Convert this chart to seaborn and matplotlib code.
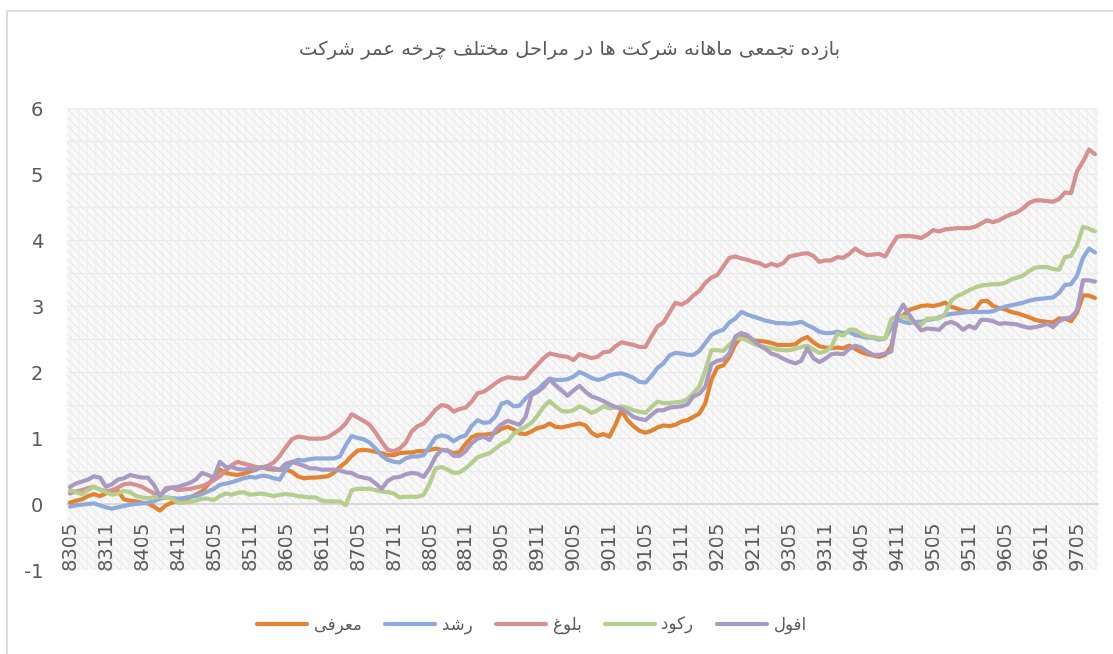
import numpy as np
import pandas as pd
import matplotlib
matplotlib.use('Agg')
import matplotlib.pyplot as plt
from matplotlib.patches import Rectangle
import seaborn as sns

sns.set_style('white')
plt.rcParams['font.family'] = ['DejaVu Sans']
plt.rcParams['axes.unicode_minus'] = False
plt.rcParams['hatch.linewidth'] = 0.7

# ---- data ----
title = 'بازده تجمعی ماهانه شرکت ها در مراحل مختلف چرخه عمر شرکت'
stages = ['معرفی', 'رشد', 'بلوغ', 'رکود', 'افول']
colors = ['#E38231', '#8EA9DA', '#D69090', '#B5CE8D', '#A99AC4']

introduction = [
    0.02, 0.05, 0.07, 0.12, 0.15, 0.12, 0.16, 0.19, 0.20, 0.07,
    0.05, 0.04, 0.02, 0.01, -0.04, -0.10, -0.02, 0.02, 0.05, 0.07,
    0.10, 0.14, 0.19, 0.29, 0.40, 0.52, 0.47, 0.45, 0.44, 0.46,
    0.49, 0.52, 0.56, 0.53, 0.52, 0.52, 0.52, 0.49, 0.42, 0.39,
    0.40, 0.40, 0.41, 0.42, 0.47, 0.56, 0.63, 0.73, 0.81, 0.82,
    0.81, 0.79, 0.77, 0.74, 0.74, 0.77, 0.78, 0.78, 0.80, 0.80,
    0.82, 0.84, 0.82, 0.81, 0.77, 0.79, 0.91, 1.01, 1.05, 1.05,
    1.06, 1.08, 1.14, 1.17, 1.13, 1.07, 1.06, 1.10, 1.15, 1.17,
    1.22, 1.17, 1.16, 1.18, 1.20, 1.22, 1.19, 1.08, 1.03, 1.06,
    1.02, 1.20, 1.42, 1.27, 1.18, 1.11, 1.08, 1.11, 1.16, 1.19,
    1.18, 1.20, 1.25, 1.27, 1.32, 1.37, 1.53, 1.88, 2.07, 2.10,
    2.23, 2.42, 2.54, 2.51, 2.48, 2.47, 2.46, 2.44, 2.41, 2.41,
    2.41, 2.42, 2.49, 2.53, 2.45, 2.39, 2.37, 2.36, 2.37, 2.36,
    2.40, 2.35, 2.30, 2.27, 2.25, 2.23, 2.26, 2.39, 2.81, 2.86,
    2.94, 2.97, 3.00, 3.01, 3.00, 3.02, 3.05, 2.99, 2.96, 2.93,
    2.91, 2.95, 3.07, 3.08, 3.00, 2.97, 2.95, 2.91, 2.89, 2.86,
    2.83, 2.79, 2.77, 2.76, 2.75, 2.81, 2.81, 2.77, 2.90, 3.16,
    3.16, 3.12,
]
growth = [
    -0.04, -0.02, -0.01, 0.00, 0.01, -0.02, -0.05, -0.07, -0.05, -0.03,
    -0.01, 0.00, 0.01, 0.02, 0.04, 0.08, 0.10, 0.09, 0.08, 0.09,
    0.11, 0.12, 0.15, 0.19, 0.23, 0.29, 0.31, 0.33, 0.36, 0.39,
    0.41, 0.40, 0.43, 0.42, 0.39, 0.37, 0.52, 0.63, 0.67, 0.66,
    0.68, 0.69, 0.69, 0.69, 0.69, 0.72, 0.89, 1.03, 1.00, 0.98,
    0.93, 0.84, 0.73, 0.67, 0.64, 0.63, 0.69, 0.72, 0.72, 0.74,
    0.87, 1.01, 1.04, 1.02, 0.95, 1.01, 1.04, 1.18, 1.27, 1.23,
    1.24, 1.33, 1.52, 1.55, 1.48, 1.49, 1.60, 1.68, 1.73, 1.82,
    1.90, 1.88, 1.88, 1.89, 1.93, 2.00, 1.96, 1.91, 1.88, 1.90,
    1.95, 1.97, 1.98, 1.95, 1.91, 1.85, 1.84, 1.94, 2.06, 2.13,
    2.25, 2.29, 2.28, 2.26, 2.26, 2.32, 2.44, 2.56, 2.61, 2.64,
    2.75, 2.81, 2.91, 2.87, 2.84, 2.81, 2.78, 2.76, 2.74, 2.74,
    2.73, 2.74, 2.76, 2.71, 2.67, 2.61, 2.59, 2.59, 2.61, 2.59,
    2.61, 2.56, 2.54, 2.52, 2.52, 2.49, 2.51, 2.67, 2.80, 2.76,
    2.74, 2.76, 2.76, 2.79, 2.80, 2.83, 2.86, 2.88, 2.89, 2.90,
    2.91, 2.91, 2.91, 2.91, 2.92, 2.96, 2.99, 3.01, 3.03, 3.05,
    3.08, 3.10, 3.11, 3.12, 3.13, 3.20, 3.32, 3.33, 3.46, 3.73,
    3.87, 3.81,
]
maturity = [
    0.16, 0.19, 0.21, 0.24, 0.26, 0.22, 0.19, 0.21, 0.25, 0.30,
    0.31, 0.29, 0.26, 0.21, 0.16, 0.12, 0.24, 0.25, 0.21, 0.22,
    0.23, 0.25, 0.27, 0.31, 0.36, 0.42, 0.51, 0.59, 0.64, 0.61,
    0.59, 0.56, 0.55, 0.58, 0.63, 0.73, 0.86, 0.98, 1.02, 1.01,
    0.99, 0.99, 0.99, 1.01, 1.07, 1.13, 1.22, 1.36, 1.31, 1.26,
    1.20, 1.08, 0.94, 0.82, 0.80, 0.84, 0.93, 1.10, 1.18, 1.22,
    1.32, 1.43, 1.50, 1.48, 1.40, 1.44, 1.46, 1.55, 1.68, 1.70,
    1.76, 1.83, 1.89, 1.92, 1.91, 1.90, 1.91, 2.02, 2.11, 2.21,
    2.28, 2.26, 2.24, 2.23, 2.18, 2.27, 2.24, 2.21, 2.23, 2.30,
    2.31, 2.39, 2.45, 2.43, 2.41, 2.38, 2.38, 2.54, 2.69, 2.75,
    2.90, 3.05, 3.02, 3.07, 3.16, 3.23, 3.35, 3.43, 3.47, 3.60,
    3.73, 3.75, 3.72, 3.70, 3.67, 3.65, 3.60, 3.64, 3.61, 3.65,
    3.75, 3.77, 3.79, 3.80, 3.76, 3.67, 3.69, 3.69, 3.74, 3.73,
    3.79, 3.87, 3.81, 3.77, 3.78, 3.79, 3.75, 3.91, 4.05, 4.06,
    4.06, 4.05, 4.03, 4.08, 4.15, 4.13, 4.16, 4.17, 4.18, 4.18,
    4.18, 4.20, 4.25, 4.30, 4.27, 4.30, 4.35, 4.39, 4.42, 4.48,
    4.56, 4.60, 4.60, 4.59, 4.58, 4.62, 4.72, 4.71, 5.04, 5.19,
    5.37, 5.30,
]
recession = [
    0.21, 0.18, 0.15, 0.21, 0.26, 0.22, 0.18, 0.14, 0.16, 0.20,
    0.18, 0.12, 0.10, 0.09, 0.10, 0.11, 0.10, 0.08, 0.02, 0.02,
    0.03, 0.05, 0.08, 0.08, 0.06, 0.12, 0.16, 0.14, 0.17, 0.18,
    0.14, 0.15, 0.16, 0.14, 0.12, 0.14, 0.15, 0.14, 0.12, 0.11,
    0.10, 0.10, 0.05, 0.04, 0.04, 0.04, -0.02, 0.21, 0.23, 0.23,
    0.23, 0.21, 0.19, 0.18, 0.16, 0.10, 0.11, 0.11, 0.11, 0.14,
    0.31, 0.54, 0.56, 0.52, 0.47, 0.48, 0.54, 0.62, 0.71, 0.74,
    0.77, 0.84, 0.91, 0.95, 1.06, 1.12, 1.17, 1.23, 1.34, 1.47,
    1.56, 1.48, 1.41, 1.40, 1.42, 1.48, 1.44, 1.38, 1.42, 1.48,
    1.45, 1.46, 1.48, 1.46, 1.42, 1.40, 1.38, 1.47, 1.55, 1.53,
    1.53, 1.54, 1.55, 1.59, 1.68, 1.78, 2.03, 2.33, 2.33, 2.32,
    2.41, 2.50, 2.51, 2.48, 2.43, 2.40, 2.38, 2.36, 2.34, 2.33,
    2.33, 2.35, 2.38, 2.40, 2.34, 2.29, 2.31, 2.38, 2.58, 2.55,
    2.64, 2.64, 2.58, 2.54, 2.53, 2.51, 2.51, 2.80, 2.85, 2.84,
    2.80, 2.74, 2.71, 2.81, 2.81, 2.81, 2.88, 3.08, 3.15, 3.19,
    3.24, 3.28, 3.31, 3.32, 3.33, 3.33, 3.35, 3.40, 3.43, 3.46,
    3.53, 3.58, 3.59, 3.59, 3.56, 3.55, 3.74, 3.76, 3.92, 4.20,
    4.17, 4.13,
]
decline = [
    0.26, 0.31, 0.34, 0.37, 0.42, 0.40, 0.26, 0.30, 0.37, 0.39,
    0.44, 0.42, 0.40, 0.40, 0.29, 0.12, 0.21, 0.25, 0.26, 0.29,
    0.32, 0.37, 0.47, 0.44, 0.40, 0.64, 0.56, 0.56, 0.53, 0.52,
    0.54, 0.52, 0.56, 0.55, 0.54, 0.52, 0.61, 0.64, 0.61, 0.58,
    0.54, 0.54, 0.52, 0.52, 0.52, 0.51, 0.48, 0.47, 0.42, 0.40,
    0.38, 0.31, 0.23, 0.35, 0.40, 0.41, 0.45, 0.47, 0.46, 0.41,
    0.54, 0.72, 0.82, 0.81, 0.73, 0.73, 0.80, 0.92, 0.99, 1.02,
    0.97, 1.12, 1.21, 1.26, 1.23, 1.20, 1.32, 1.65, 1.70, 1.77,
    1.89, 1.80, 1.72, 1.64, 1.72, 1.79, 1.70, 1.63, 1.60, 1.56,
    1.51, 1.47, 1.44, 1.39, 1.32, 1.29, 1.27, 1.35, 1.42, 1.42,
    1.46, 1.47, 1.48, 1.51, 1.63, 1.67, 1.78, 2.12, 2.17, 2.19,
    2.28, 2.54, 2.59, 2.56, 2.48, 2.40, 2.35, 2.28, 2.25, 2.20,
    2.16, 2.13, 2.17, 2.36, 2.21, 2.15, 2.20, 2.27, 2.28, 2.27,
    2.35, 2.40, 2.37, 2.31, 2.26, 2.26, 2.28, 2.31, 2.86, 3.02,
    2.87, 2.74, 2.63, 2.66, 2.65, 2.64, 2.73, 2.76, 2.72, 2.64,
    2.70, 2.66, 2.79, 2.79, 2.77, 2.73, 2.74, 2.73, 2.72, 2.69,
    2.67, 2.68, 2.70, 2.73, 2.68, 2.77, 2.81, 2.83, 2.93, 3.39,
    3.39, 3.37,
]

# monthly categories 8305 ... 9708
months = []
yy, mm = 83, 5
while len(months) < len(introduction):
    months.append(f'{yy}{mm:02d}')
    mm += 1
    if mm > 12:
        mm, yy = 1, yy + 1

series = [introduction, growth, maturity, recession, decline]
for s in series:
    assert len(s) == len(months), len(s)

# ---- minimal persian shaping (matplotlib has no bidi / joining) ----
FORMS = {
    'ا': ('\uFE8D', '\uFE8E', None, None),
    'ب': ('\uFE8F', '\uFE90', '\uFE91', '\uFE92'),
    'ت': ('\uFE95', '\uFE96', '\uFE97', '\uFE98'),
    'ج': ('\uFE9D', '\uFE9E', '\uFE9F', '\uFEA0'),
    'ح': ('\uFEA1', '\uFEA2', '\uFEA3', '\uFEA4'),
    'خ': ('\uFEA5', '\uFEA6', '\uFEA7', '\uFEA8'),
    'د': ('\uFEA9', '\uFEAA', None, None),
    'ر': ('\uFEAD', '\uFEAE', None, None),
    'ز': ('\uFEAF', '\uFEB0', None, None),
    'ش': ('\uFEB5', '\uFEB6', '\uFEB7', '\uFEB8'),
    'ع': ('\uFEC9', '\uFECA', '\uFECB', '\uFECC'),
    'غ': ('\uFECD', '\uFECE', '\uFECF', '\uFED0'),
    'ف': ('\uFED1', '\uFED2', '\uFED3', '\uFED4'),
    'ل': ('\uFEDD', '\uFEDE', '\uFEDF', '\uFEE0'),
    'م': ('\uFEE1', '\uFEE2', '\uFEE3', '\uFEE4'),
    'ن': ('\uFEE5', '\uFEE6', '\uFEE7', '\uFEE8'),
    'ه': ('\uFEE9', '\uFEEA', '\uFEEB', '\uFEEC'),
    'و': ('\uFEED', '\uFEEE', None, None),
    'ک': ('\uFB8E', '\uFB8F', '\uFB90', '\uFB91'),
    'چ': ('\uFB7A', '\uFB7B', '\uFB7C', '\uFB7D'),
    'ی': ('\uFBFC', '\uFBFD', '\uFBFE', '\uFBFF'),
}


def shape(text):
    out = []
    for k, ch in enumerate(text):
        if ch not in FORMS:
            out.append(ch)
            continue
        iso, fin, ini, med = FORMS[ch]
        prev = text[k - 1] if k > 0 else ''
        nxt = text[k + 1] if k + 1 < len(text) else ''
        join_prev = prev in FORMS and FORMS[prev][2] is not None
        join_next = ini is not None and nxt in FORMS
        if join_prev and join_next:
            out.append(med)
        elif join_prev:
            out.append(fin)
        elif join_next:
            out.append(ini)
        else:
            out.append(iso)
    return ''.join(reversed(out))


df = pd.DataFrame({
    'month': months * len(stages),
    'value': np.concatenate(series),
    'stage': np.repeat(stages, len(months)),
})

fig = plt.figure(figsize=(11.13, 6.54), dpi=100)
ax = fig.add_axes([67 / 1113, 1 - 570 / 654, 1031 / 1113, 462 / 654])

# excel style patterned plot area (fine light texture)
ax.add_patch(Rectangle((0, 0), 1, 1, transform=ax.transAxes, facecolor='#f9f9f9',
                       edgecolor='#e6e6e6', hatch='\\\\\\\\', lw=0, zorder=0.1))
ax.add_patch(Rectangle((0, 0), 1, 1, transform=ax.transAxes, facecolor='none',
                       edgecolor='#efefef', hatch='||', lw=0, zorder=0.15))

sns.lineplot(data=df, x='month', y='value', hue='stage', hue_order=stages,
             palette=dict(zip(stages, colors)), sort=False, lw=3.0, ax=ax,
             solid_joinstyle='round', solid_capstyle='round')

ax.set_xlim(-0.5, len(months) - 0.5)
ax.set_ylim(-1, 6)
ax.set_yticks(range(-1, 7))
ax.set_yticks(np.arange(-1, 6.01, 0.5), minor=True)
ax.set_xticks(range(0, len(months), 6))
ax.set_xticklabels(months[::6])
ax.set_axisbelow(True)
ax.grid(which='both', axis='y', color='#ebebeb', lw=0.9)
ax.grid(axis='x', visible=False)

for side in ['top', 'right', 'left']:
    ax.spines[side].set_visible(False)
ax.spines['bottom'].set_position(('data', 0))
ax.spines['bottom'].set_color('#d9d9d9')
ax.spines['bottom'].set_linewidth(1.4)
ax.spines['bottom'].set_zorder(1)

ax.tick_params(axis='x', length=0, pad=12, labelsize=14, labelcolor='#595959', labelrotation=90)
ax.tick_params(axis='y', which='both', length=0, pad=17, labelsize=14, labelcolor='#595959')
ax.set_xlabel('')
ax.set_ylabel('')

handles, labels = ax.get_legend_handles_labels()
ax.get_legend().remove()
leg = fig.legend(handles, [shape(l) for l in labels], loc='center', bbox_to_anchor=(0.478, 0.044),
                 ncol=5, frameon=False, fontsize=12, handlelength=3.0, handletextpad=0.4,
                 columnspacing=1.4)
for t in leg.get_texts():
    t.set_color('#595959')

fig.text(0.512, 1 - 50 / 654, shape(title), ha='center', va='center', fontsize=14, color='#595959')

# chart border
fig.patches.append(Rectangle((7 / 1113, -0.05), 1.2, 1.05 - 11 / 654, transform=fig.transFigure,
                             fill=False, edgecolor='#d9d9d9', lw=1.3))

fig.savefig('out.png', dpi=100, facecolor='white')
